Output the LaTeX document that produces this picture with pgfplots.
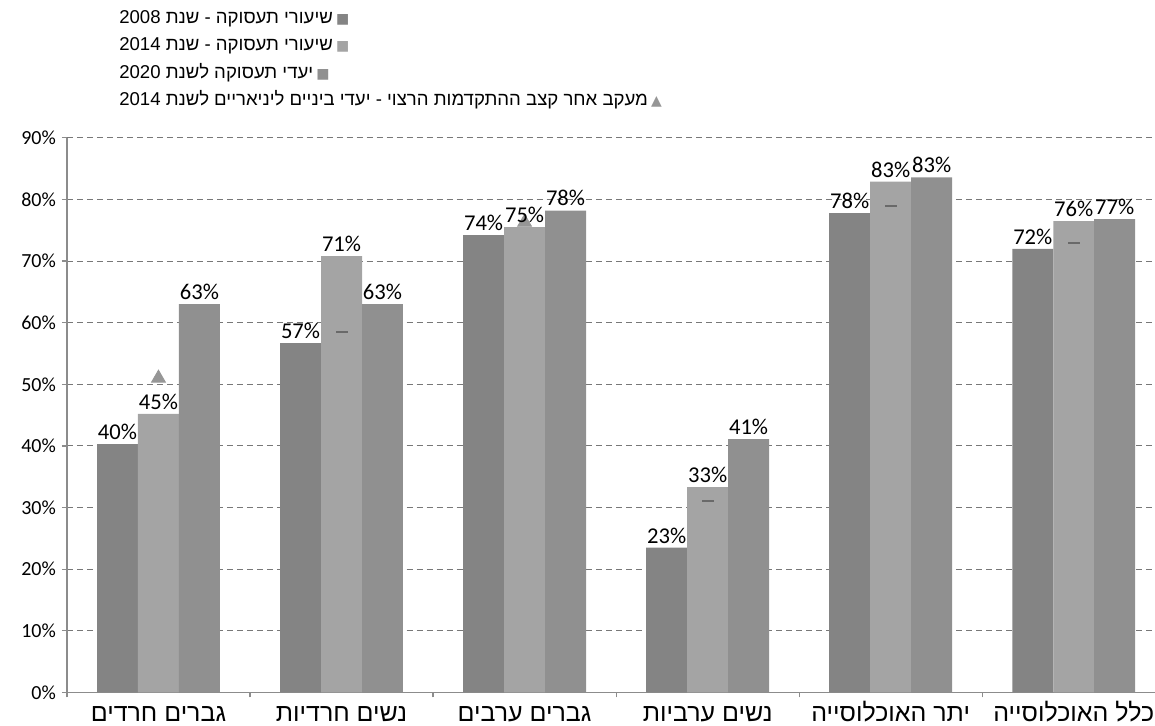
\documentclass[border=0pt]{standalone}
\usepackage{pgfplots}
\pgfplotsset{compat=1.18}
\usepackage{pgfplotstable}
\usepackage{fontspec}
\setmainfont{Carlito}
\newfontfamily\hebrew[Script=Hebrew]{Liberation Sans}
\newfontfamily\dejavu{DejaVu Sans}
\TeXXeTstate=1
\definecolor{cA}{RGB}{132,132,132}
\definecolor{cB}{RGB}{164,164,164}
\definecolor{cC}{RGB}{144,144,144}
\definecolor{cM}{RGB}{150,150,150}
\definecolor{cD}{RGB}{105,105,105}
\definecolor{axgray}{RGB}{140,140,140}
\definecolor{gridgray}{RGB}{120,120,120}

\pgfplotstableread{
x y lab
0 40.3 40
1 56.7 57
2 74.2 74
3 23.5 23
4 77.8 78
5 72.0 72
}\tA
\pgfplotstableread{
x y lab
0 45.2 45
1 70.8 71
2 75.5 75
3 33.3 33
4 82.9 83
5 76.5 76
}\tB
\pgfplotstableread{
x y lab
0 63.0 63
1 63.0 63
2 78.2 78
3 41.1 41
4 83.6 83
5 76.8 77
}\tC
\pgfplotstableread{
x y
0 51.0
1 58.5
2 76.3
3 31.0
4 79.0
5 73.0
}\tM
\pgfplotstableread{
x y
1 58.5
3 31.0
4 79.0
5 73.0
}\tMd

\begin{document}
\begin{tikzpicture}
\begin{axis}[
  name=ax,
  clip mode=individual,
  scale only axis,
  width=544.5pt, height=277.5pt,
  xmin=-0.5, xmax=5.444,
  ymin=0, ymax=90,
  axis lines=left,
  axis line style={axgray, line width=0.6pt, -},
  tick align=outside,
  tick style={axgray, line width=0.6pt},
  xtick={0,1,2,3,4,5},
  major x tick style={draw=none},
  minor xtick={-0.5,0.5,1.5,2.5,3.5,4.5,5.5},
  minor tick length=2.5pt,
  major tick length=2.5pt,
  xticklabels={{\beginR גברים חרדים\endR},{\beginR נשים חרדיות\endR},{\beginR גברים ערבים\endR},{\beginR נשים ערביות\endR},{\beginR יתר האוכלוסייה\endR},{\beginR כלל האוכלוסייה\endR}},
  xticklabel style={font=\hebrew\fontsize{12.5}{14}\selectfont, text height=9pt, text depth=2pt, inner sep=0pt, yshift=-3pt},
  ytick={0,10,...,90},
  yticklabel={\textrm{\pgfmathprintnumber{\tick}\%}},
  yticklabel style={font=\fontsize{10}{12}\selectfont, xshift=0.5pt},
  /pgf/number format/assume math mode=true,
  ymajorgrids,
  grid style={gridgray, dash pattern=on 3pt off 2pt, line width=0.5pt},
  nodes near coords={\pgfplotspointmeta\%},
  nodes near coords style={font=\fontsize{11.3}{13}\selectfont, black, inner sep=2pt},
  legend plot pos=none,
  legend cell align=left,
  legend style={at={(0,1)}, anchor=north west, xshift=26pt, yshift=65.5pt, draw=none, fill=none, row sep=0pt, inner sep=0pt, font=\fontsize{9.3}{11}\selectfont, nodes={text height=8pt, text depth=5.7pt, inner sep=0pt}},
]
\addplot[forget plot, only marks, mark=triangle*, mark size=4pt, mark options={fill=cM, draw=cM}, nodes near coords={}] table[x=x, y=y] {\tM};
\addplot[ybar, bar width=20.5pt, bar shift=-20.5pt, fill=cA, draw=none, point meta=explicit symbolic, every node near coord/.append style={xshift=-20.5pt}] table[x=x, y=y, meta=lab] {\tA};
\addlegendentry{{\hebrew\beginR שיעורי תעסוקה - שנת \beginL2008\endL\endR}\,{\dejavu\fontsize{7}{7}\selectfont\textcolor{cA}{■}}}
\addplot[ybar, bar width=20.5pt, bar shift=0pt, fill=cB, draw=none, point meta=explicit symbolic] table[x=x, y=y, meta=lab] {\tB};
\addlegendentry{{\hebrew\beginR שיעורי תעסוקה - שנת \beginL2014\endL\endR}\,{\dejavu\fontsize{7}{7}\selectfont\textcolor{cB}{■}}}
\addplot[ybar, bar width=20.5pt, bar shift=20.5pt, fill=cC, draw=none, point meta=explicit symbolic, every node near coord/.append style={xshift=20.5pt}] table[x=x, y=y, meta=lab] {\tC};
\addlegendentry{{\hebrew\beginR יעדי תעסוקה לשנת \beginL2020\endL\endR}\,{\dejavu\fontsize{7}{7}\selectfont\textcolor{cC}{■}}}
\addlegendimage{empty legend}
\addlegendentry{{\hebrew\beginR מעקב אחר קצב ההתקדמות הרצוי - יעדי ביניים ליניאריים לשנת \beginL2014\endL\endR}\,{\dejavu\fontsize{7}{7}\selectfont\textcolor{cM}{▲}}}
\addplot[forget plot, only marks, mark=-, mark size=3pt, mark options={draw=cD, line width=1pt}, nodes near coords={}] table[x=x, y=y] {\tMd};
\end{axis}
\pgfresetboundingbox
\path[use as bounding box] ([xshift=-33.5pt, yshift=-16.5pt]ax.south west) rectangle ([yshift=69pt]ax.north east);
\end{tikzpicture}
\end{document}
